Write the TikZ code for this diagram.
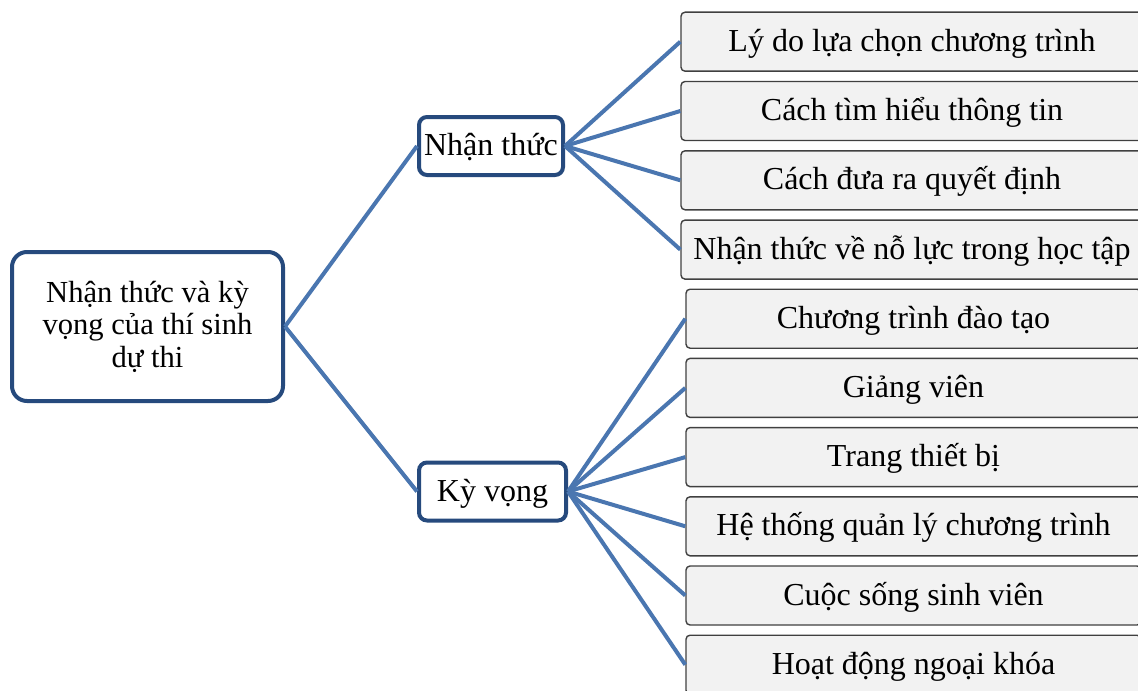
\documentclass[tikz,border=0pt]{standalone}
\usepackage{fontspec}
\setmainfont{Liberation Serif}
\usetikzlibrary{positioning}
\definecolor{boxblue}{RGB}{38,74,125}
\definecolor{linkblue}{RGB}{74,118,176}
\definecolor{leafgray}{RGB}{64,64,64}
\definecolor{leaffill}{RGB}{242,242,242}

\begin{document}
\begin{tikzpicture}
    [x=0.5pt,y=-0.5pt,
      every node/.style={font=\fontsize{16}{16.3}\selectfont, inner sep=0pt},
      rootbox/.style={draw=boxblue, line width=2pt, fill=white, rounded corners=7.5pt, align=center, minimum width=135.5pt, minimum height=74.5pt, font=\fontsize{15.3}{16.3}\selectfont},
      midbox/.style={draw=boxblue, line width=2pt, fill=white, rounded corners=4pt, minimum width=72pt, minimum height=29pt, text height=13.2pt, text depth=3.6pt},
      leafbox/.style={draw=leafgray, line width=0.7pt, fill=leaffill, rounded corners=2pt, minimum height=29.5pt, text height=13.2pt, text depth=3.6pt},
      link/.style={draw=linkblue, line width=2pt},
    ]
    \useasboundingbox (0,0) rectangle (1138,690);
    \clip (0,0) rectangle (1138,690);

    \node [rootbox] (root) at (147.5,326.5) {Nhận thức và kỳ\\vọng của thí sinh\\dự thi};
    \node [midbox] (nt) at (491,146) {Nhận thức};
    \node [midbox, minimum width=73.5pt] (kv) at (492.5,491.5) {Kỳ vọng};

    \node [leafbox, minimum width=231pt] (a1) at (912,41.7) {Lý do lựa chọn chương trình};
    \node [leafbox, minimum width=231pt] (a2) at (912,111) {Cách tìm hiểu thông tin};
    \node [leafbox, minimum width=231pt] (a3) at (912,180.3) {Cách đưa ra quyết định};
    \node [leafbox, minimum width=231pt] (a4) at (912,249.6) {Nhận thức về nỗ lực trong học tập};

    \node [leafbox, minimum width=227.5pt] (b1) at (913.5,318.7) {Chương trình đào tạo};
    \node [leafbox, minimum width=227.5pt] (b2) at (913.5,387.9) {Giảng viên};
    \node [leafbox, minimum width=227.5pt] (b3) at (913.5,457.1) {Trang thiết bị};
    \node [leafbox, minimum width=227.5pt] (b4) at (913.5,526.3) {Hệ thống quản lý chương trình};
    \node [leafbox, minimum width=227.5pt] (b5) at (913.5,595.5) {Cuộc sống sinh viên};
    \node [leafbox, minimum width=227.5pt] (b6) at (913.5,664.7) {Hoạt động ngoại khóa};

    \draw [link] (root.east) -- (nt.west);
    \draw [link] (root.east) -- (kv.west);

    \draw [link] (nt.east) -- (a1.west);
    \draw [link] (nt.east) -- (a2.west);
    \draw [link] (nt.east) -- (a3.west);
    \draw [link] (nt.east) -- (a4.west);

    \draw [link] (kv.east) -- (b1.west);
    \draw [link] (kv.east) -- (b2.west);
    \draw [link] (kv.east) -- (b3.west);
    \draw [link] (kv.east) -- (b4.west);
    \draw [link] (kv.east) -- (b5.west);
    \draw [link] (kv.east) -- (b6.west);
  \end{tikzpicture}
\end{document}
